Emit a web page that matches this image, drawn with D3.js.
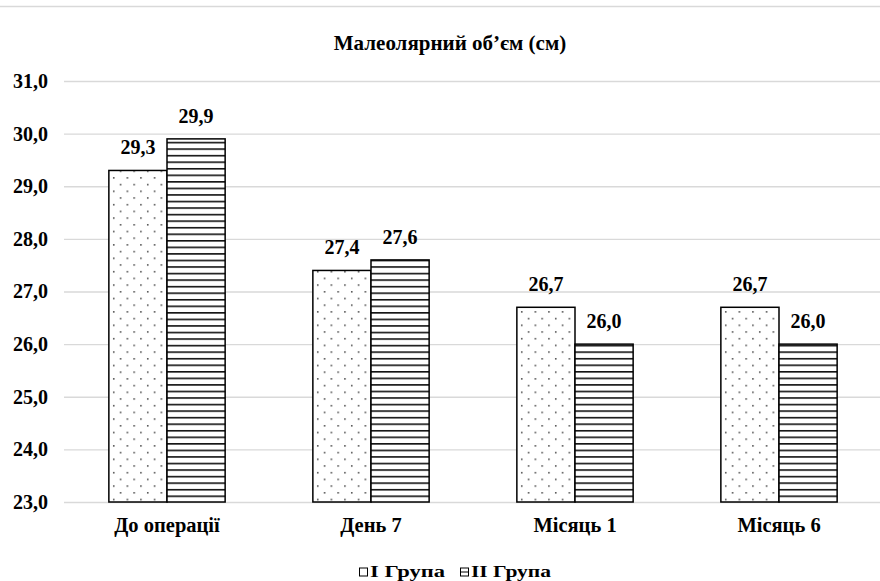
<!DOCTYPE html>
<html><head><meta charset="utf-8">
<script src="https://cdn.jsdelivr.net/npm/d3@7"></script>
<style>body{margin:0;background:#fff}svg{display:block}</style>
</head><body><div id="c"></div>
<script>
const categories = ["До операції", "День 7", "Місяць 1", "Місяць 6"];
const seriesNames = ["I Група", "II Група"];
const group1 = [29.3, 27.4, 26.7, 26.7];
const group2 = [29.9, 27.6, 26.0, 26.0];
const yTicks = [23, 24, 25, 26, 27, 28, 29, 30, 31];
const title = "Малеолярний об’єм (см)";

const FONT = "'Liberation Serif', Tinos, 'Times New Roman', serif";
const W = 880, H = 581;
const svg = d3.select("#c").append("svg").attr("width", W).attr("height", H)
  .attr("font-family", FONT).attr("font-weight","bold");
const defs = svg.append("defs");
const pDots = defs.append("pattern").attr("id","dots").attr("patternUnits","userSpaceOnUse")
  .attr("width",13.6).attr("height",13.4).attr("x",109).attr("y",0);
pDots.append("rect").attr("width",13.6).attr("height",13.4).attr("fill","#fff");
pDots.append("rect").attr("x",4).attr("y",3).attr("width",1.4).attr("height",1.4).attr("fill","#222");
pDots.append("rect").attr("x",10.8).attr("y",9.7).attr("width",1.4).attr("height",1.4).attr("fill","#222");
const pLines = defs.append("pattern").attr("id","hlines").attr("patternUnits","userSpaceOnUse")
  .attr("width",10).attr("height",6.55).attr("x",0).attr("y",502);
pLines.append("rect").attr("width",10).attr("height",6.55).attr("fill","#fff");
pLines.append("rect").attr("y",0).attr("width",10).attr("height",1.6).attr("fill","#111");

svg.append("line").attr("x1",0).attr("x2",W).attr("y1",6.5).attr("y2",6.5).attr("stroke","#d9d9d9").attr("stroke-width",1.5);

const y = d3.scaleLinear().domain([23,31]).range([502,81]);
const x = d3.scaleBand().domain(categories).range([65,881]).paddingInner(0.43).paddingOuter(0.215);
const xs = d3.scaleBand().domain(seriesNames).range([0,x.bandwidth()]);

svg.append("text").attr("x",450).attr("y",50).attr("text-anchor","middle").attr("font-size",21).text(title);

const fmt = v => d3.format(".1f")(v).replace(".", ",");
const yAxis = svg.append("g").attr("transform","translate(64,0)")
  .call(d3.axisLeft(y).tickValues(yTicks).tickSize(-(W-64)).tickFormat(fmt));
yAxis.attr("font-family", FONT).attr("font-weight","bold");
yAxis.select(".domain").remove();
yAxis.selectAll(".tick line").attr("stroke","#d9d9d9").attr("stroke-width",1.3);
yAxis.selectAll(".tick text").attr("x",-16).attr("font-size",20).attr("dy","0.32em").attr("fill","#000");

const data = categories.map((c,i)=>({c, vals:[group1[i], group2[i]]}));
const fills = ["url(#dots)","url(#hlines)"];
const g = svg.append("g").selectAll("g").data(data).join("g").attr("transform",d=>`translate(${x(d.c)},0)`);
g.selectAll("rect").data(d=>d.vals.map((v,j)=>({v,j}))).join("rect")
  .attr("x",d=>xs(seriesNames[d.j])).attr("width",xs.bandwidth())
  .attr("y",d=>y(d.v)).attr("height",d=>y(23)-y(d.v))
  .attr("fill",d=>fills[d.j]).attr("stroke","#000").attr("stroke-width",1.5);
g.selectAll("text.v").data(d=>d.vals.map((v,j)=>({v,j}))).join("text").attr("class","v")
  .attr("x",d=>xs(seriesNames[d.j])+xs.bandwidth()/2).attr("y",d=>y(d.v)-16)
  .attr("text-anchor","middle").attr("font-size",20).text(d=>fmt(d.v));

const xAxis = svg.append("g").attr("transform","translate(0,502)").call(d3.axisBottom(x).tickSize(0));
xAxis.attr("font-family", FONT).attr("font-weight","bold");
xAxis.select(".domain").remove();
xAxis.selectAll(".tick text").attr("font-size",20.5).attr("dy","0").attr("y",30).attr("fill","#000");

const leg = svg.append("g");
const legX = [359, 460];
const legLen = [75, 80];
seriesNames.forEach((s,i)=>{
  const lg = leg.append("g").attr("transform",`translate(${legX[i]},567.5)`);
  lg.append("rect").attr("x",0.5).attr("y",0.5).attr("width",8).attr("height",8).attr("fill","#fff").attr("stroke","#000").attr("stroke-width",1);
  if(i) lg.append("line").attr("x1",1).attr("x2",8).attr("y1",4.5).attr("y2",4.5).attr("stroke","#000");
  lg.append("text").attr("x",11).attr("y",9).attr("font-size",16)
    .attr("textLength",legLen[i]).attr("lengthAdjust","spacingAndGlyphs").text(s);
});
</script></body></html>
